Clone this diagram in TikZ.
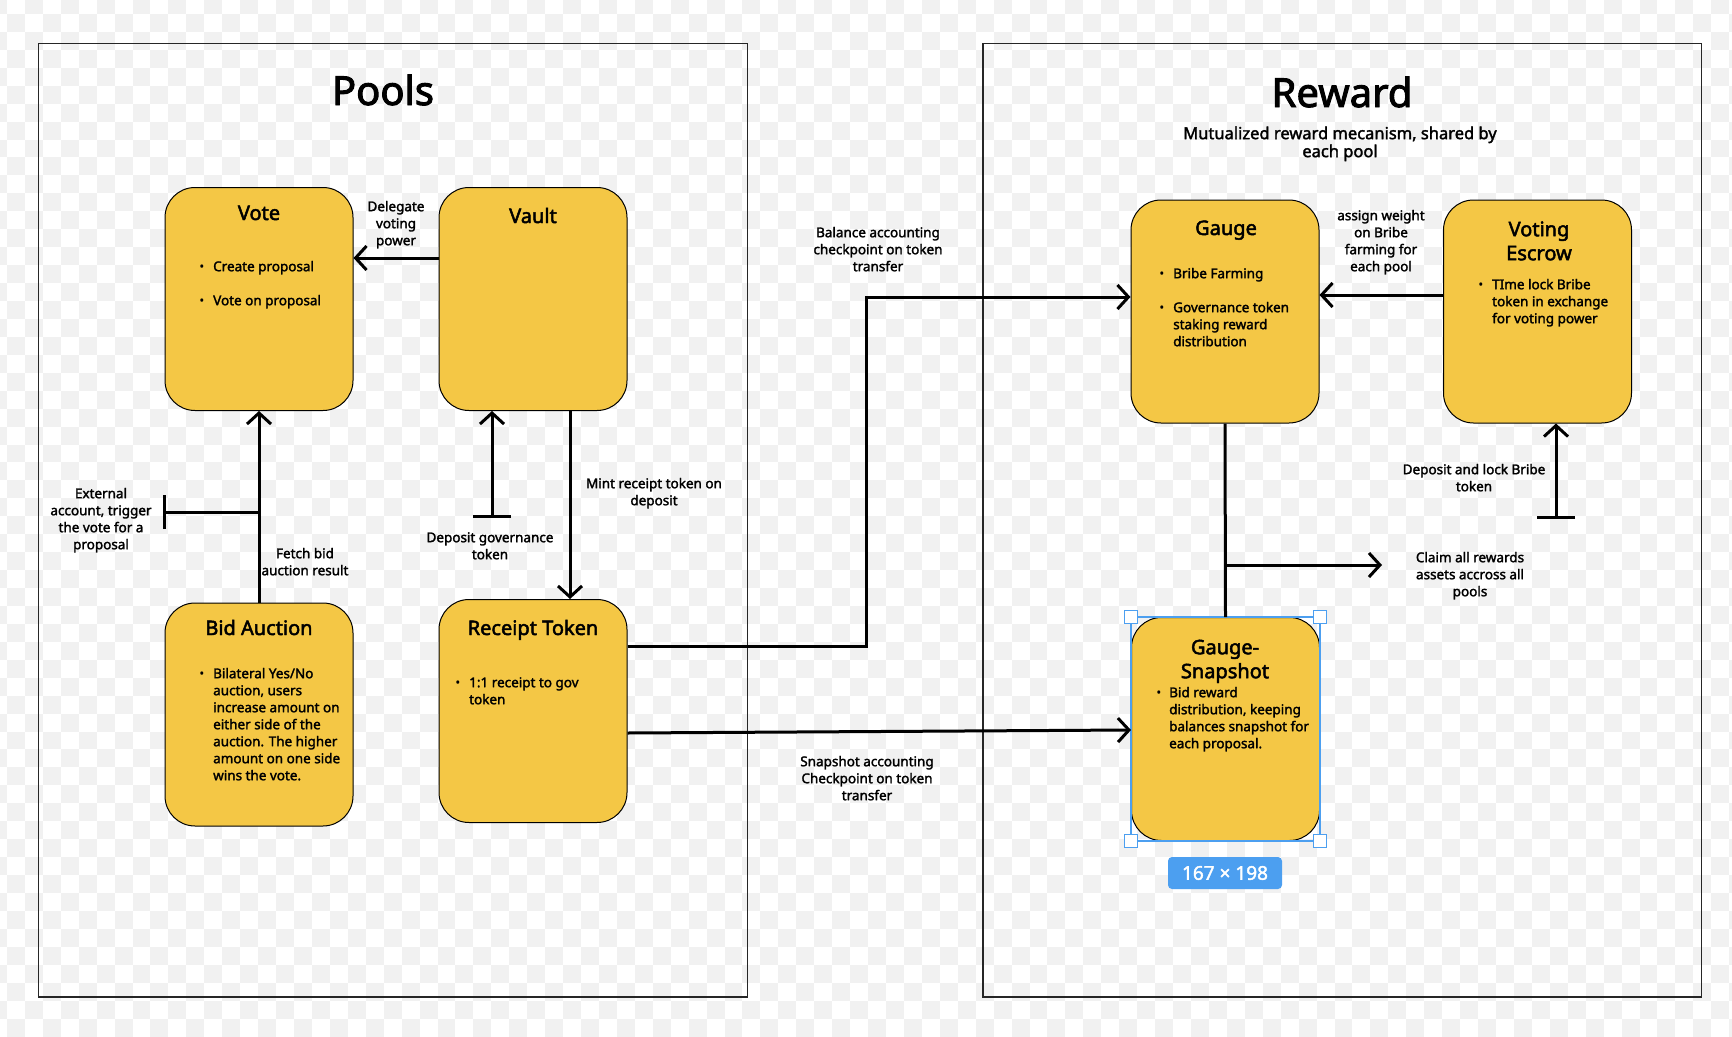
\documentclass[tikz,border=0pt]{standalone}
\usepackage{fontspec}
\setmainfont{Noto Sans}
\newfontfamily\medfont[FakeBold=2]{Noto Sans}
\newfontfamily\heavyfont[FakeBold=2.4]{Noto Sans}
\usepackage{tikz}
\usetikzlibrary{calc,arrows.meta,positioning}

\definecolor{chkgrey}{RGB}{241,241,241}
\definecolor{boxyellow}{RGB}{244,199,69}
\definecolor{framegrey}{RGB}{38,38,38}
\definecolor{selblue}{RGB}{76,159,240}

\begin{document}
\begin{tikzpicture}[x=1pt,y=-1pt]
  \tikzset{
    blk/.style={draw=black, line width=1pt, fill=boxyellow, rounded corners=30pt, minimum width=188pt, minimum height=223pt, inner sep=0pt},
    ttl/.style={font=\fontsize{20}{24}\selectfont\heavyfont, align=center, inner sep=0pt},
    bigttl/.style={font=\fontsize{40}{44}\selectfont\heavyfont, inner sep=0pt},
    pt/.style={font=\fontsize{13.5}{17}\selectfont\medfont, align=left, inner sep=0pt, anchor=north west},
    dot/.style={font=\fontsize{13.5}{17}\selectfont, inner sep=0pt, anchor=base},
    lbl/.style={font=\fontsize{13.5}{17}\selectfont\medfont, align=center, inner sep=0pt, anchor=north},
    flow/.style={line width=3pt, -{Straight Barb[length=11pt,width=24pt]}},
    feed/.style={line width=3pt, {Bar[width=38pt]}-{Straight Barb[length=11pt,width=24pt]}},
    frame/.style={draw=framegrey, line width=1.3pt}
  }

  \useasboundingbox (0,0) rectangle (1732,1036);

  % checkered canvas
  \fill[white] (0,0) rectangle (1732,1036);
  \foreach \j in {0,...,58}{
    \pgfmathtruncatemacro\ioff{mod(\j,2)}
    \pgfmathtruncatemacro\inext{\ioff+2}
    \foreach \i in {\ioff,\inext,...,98}
      \fill[chkgrey] (-11+17.94*\i,-4+17.94*\j) rectangle ++(17.94,17.94);
  }

  % ================= FRAMES =================
  \draw[frame] (38.5,43.5) rectangle (747.5,997);
  \draw[frame] (983,43.5) rectangle (1701.5,997);
  \node[bigttl, anchor=base] (poolsttl) at (383,105) {Pools};
  \node[bigttl, anchor=base] (rewardttl) at (1342,107) {Reward};
  \node[font=\fontsize{16.5}{18}\selectfont\medfont, align=center, inner sep=0pt, anchor=north] (rewardsub) at (1340,126.4) {Mutualized reward mecanism, shared by\\each pool};

  % ================= POOLS =================
  \node[blk] (vote) at (259,299) {};
  \node[blk] (vault) at (533,299) {};
  \node[blk] (bid) at (259,714.5) {};
  \node[blk] (receipt) at (533,711) {};

  \node[ttl, anchor=base] (votettl) at (259,220) {Vote};
  \node[ttl, anchor=base] (vaultttl) at (533,223) {Vault};
  \node[ttl, anchor=base] (bidttl) at (259,635) {Bid Auction};
  \node[ttl, anchor=base] (receiptttl) at (533,635) {Receipt Token};

  \node[dot] (voteb1) at (202,271) {\textbullet};
  \node[pt] (votep1) at (213,259.1) {\strut Create proposal};
  \node[dot] (voteb2) at (202,305) {\textbullet};
  \node[pt] (votep2) at (213,293.1) {\strut Vote on proposal};

  \node[dot] (bidb1) at (202,678) {\textbullet};
  \node[pt] (bidp1) at (213,666.1) {\strut Bilateral Yes/No\\auction, users\\increase amount on\\either side of the\\auction. The higher\\amount on one side\\wins the vote.};

  \node[dot] (receiptb1) at (458,687) {\textbullet};
  \node[pt] (receiptp1) at (469,675.1) {\strut 1:1 receipt to gov\\token};

  % ================= REWARD =================
  \node[blk] (gauge) at (1225,311.5) {};
  \node[blk] (escrow) at (1537.5,311.5) {};
  \node[blk] (snap) at (1225.5,729) {};

  \node[ttl, anchor=base] (gaugettl) at (1226,235) {Gauge};
  \node[ttl, anchor=north] (escrowttl) at (1539,219.2) {\strut Voting\\Escrow};
  \node[ttl, anchor=north] (snapttl) at (1225,637.2) {\strut Gauge-\\Snapshot};

  \node[dot] (gaugeb1) at (1162,278) {\textbullet};
  \node[pt] (gaugep1) at (1173,266.1) {\strut Bribe Farming};
  \node[dot] (gaugeb2) at (1162,312) {\textbullet};
  \node[pt] (gaugep2) at (1173,300.1) {\strut Governance token\\staking reward\\distribution};

  \node[dot] (escrowb1) at (1481,289) {\textbullet};
  \node[pt] (escrowp1) at (1492,277.1) {\strut TIme lock Bribe\\token in exchange\\for voting power};

  \node[dot] (snapb1) at (1159,697) {\textbullet};
  \node[pt] (snapp1) at (1169,685.1) {\strut Bid reward\\distribution, keeping\\balances snapshot for\\each proposal.};

  % selection handles round the snapshot box
  \draw[selblue, line width=1.5pt] (1131,617) rectangle (1320,841);
  \foreach \hx/\hy in {1131/617,1320/617,1131/841,1320/841}
    \draw[selblue, line width=1.2pt, fill=white] (\hx-6.5,\hy-6.5) rectangle ++(13,13);
  \node[fill=selblue, text=white, rounded corners=4pt, minimum width=114pt, minimum height=32pt, inner sep=0pt, font=\fontsize{19}{22}\selectfont\medfont] (badge) at (1225,873) {167 × 198};

  % ================= CONNECTORS =================
  \draw[flow] ($(vault.west)+(0,-41)$) -- ($(vote.east)+(0,-41)$);
  \draw[flow] (bid.north) -- (vote.south);
  \coordinate (extacc) at (163,512);
  \draw[line width=3pt, {Bar[width=34pt]}-] (extacc) -- (extacc -| bid.north);
  \coordinate (depgov) at (492,518);
  \draw[feed] (depgov) -- (depgov |- vault.south);
  \draw[flow] ($(vault.south)+(37,0)$) -- ($(receipt.north)+(37,0)$);
  \draw[flow] ($(receipt.east)+(0,-65)$) -- ++(239,0) |- ($(gauge.west)+(0,-14.5)$);
  \draw[flow] ($(receipt.east)+(0,22)$) -- ($(snap.west)+(0,1)$);
  \draw[flow] ($(escrow.west)+(0,-16.5)$) -- ($(gauge.east)+(0,-16.5)$);
  \coordinate (lockbribe) at (1556,519);
  \draw[feed] (lockbribe) -- (lockbribe |- escrow.south);
  \draw[line width=3pt] (gauge.south) -- (snap.north);
  \coordinate (claimall) at (1382,565);
  \draw[flow] (claimall -| gauge.south) -- (claimall);

  % connector labels
  \node[lbl] (delegatelbl) at (396,199.1) {\strut Delegate\\voting\\power};
  \node[lbl] (extlbl) at (101,486.1) {\strut External\\account, trigger\\the vote for a\\proposal};
  \node[lbl] (fetchlbl) at (305,546.1) {\strut Fetch bid\\auction result};
  \node[lbl] (depgovlbl) at (490,530.1) {\strut Deposit governance\\token};
  \node[lbl] (mintlbl) at (654,476.1) {\strut Mint receipt token on\\deposit};
  \node[lbl] (balancelbl) at (878,225.1) {\strut Balance accounting\\checkpoint on token\\transfer};
  \node[lbl] (snaplbl) at (867,754.1) {\strut Snapshot accounting\\Checkpoint on token\\transfer};
  \node[lbl] (weightlbl) at (1381,208.1) {\strut assign weight\\on Bribe\\farming for\\each pool};
  \node[lbl] (locklbl) at (1474,462.1) {\strut Deposit and lock Bribe\\token};
  \node[lbl] (claimlbl) at (1470,550.1) {\strut Claim all rewards\\assets accross all\\pools};

\end{tikzpicture}
\end{document}
